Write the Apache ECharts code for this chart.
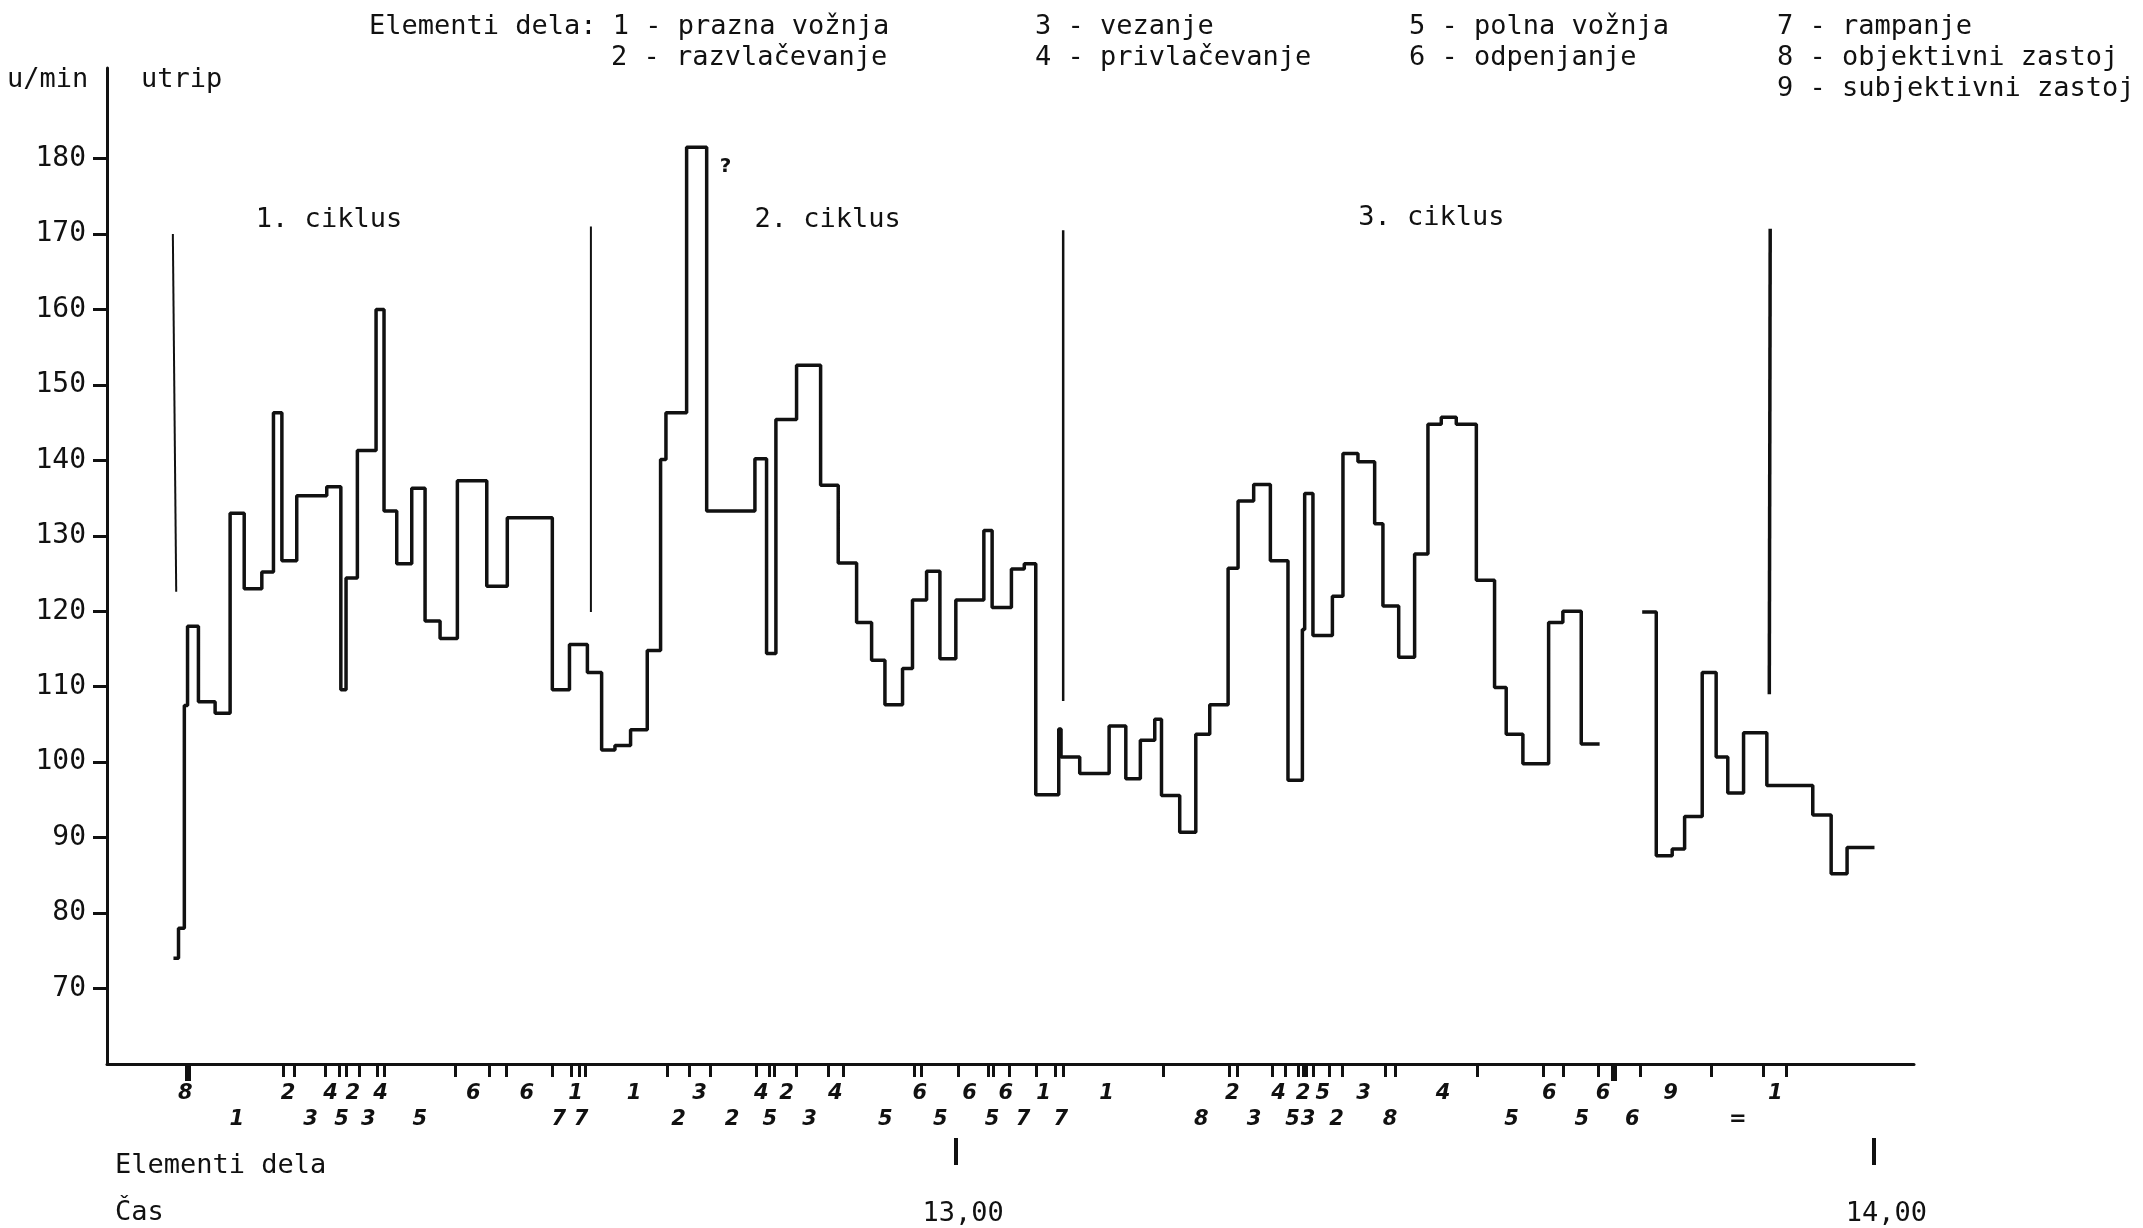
<!DOCTYPE html>
<html><head><meta charset="utf-8">
<script src="https://cdn.jsdelivr.net/npm/echarts@6/dist/echarts.min.js"></script>
<style>html,body{margin:0;padding:0;background:#fff}#c{width:2143px;height:1228px}</style>
</head><body><div id="c"></div>
<script>
// ---- data (time in minutes after 12:00, heart rate in beats/min) ----
const segStartA = [9.04, 9.37, 9.75, 9.96, 10.67, 11.76, 12.74, 13.66, 14.81, 15.57, 16.12, 17.09, 19.05, 19.97, 20.31, 21.05, 22.27, 22.79, 23.62, 24.6, 25.47, 26.45, 27.58, 29.5, 30.84, 33.78, 34.9, 36.07, 37.0, 37.87, 38.89, 39.98, 40.85, 41.2, 42.55, 43.86, 47.01, 47.77, 48.38, 49.73, 51.3, 52.45, 53.65, 54.63, 55.5, 56.65, 57.3, 58.22, 59.09, 60.13, 61.96, 62.5, 63.76, 64.6, 65.35, 66.85, 67.0, 68.22, 70.14, 71.23, 72.18, 73.12, 73.56, 74.75, 75.8, 76.71, 77.91, 78.56, 79.58, 80.67, 81.82, 82.76, 82.91, 83.45, 84.72, 85.41, 86.39, 87.48, 88.02, 89.05, 90.09, 90.96, 91.83, 92.81, 94.12, 95.31, 96.07, 97.16, 98.84, 99.77, 100.97];
const bpmA = [74, 78, 107.5, 118, 108, 106.5, 133, 123, 125.2, 146.3, 126.7, 135.3, 136.5, 109.6, 124.4, 141.3, 160, 133.3, 126.3, 136.3, 118.7, 116.4, 137.3, 123.3, 132.4, 109.6, 115.6, 111.9, 101.6, 102.2, 104.3, 114.8, 140.1, 146.3, 181.5, 133.3, 140.2, 114.4, 145.4, 152.6, 136.7, 126.4, 118.5, 113.5, 107.6, 112.4, 121.5, 125.3, 113.7, 121.5, 130.7, 120.5, 125.6, 126.3, 95.7, 104.4, 100.7, 98.5, 104.8, 97.8, 102.9, 105.7, 95.6, 90.7, 103.7, 107.6, 125.7, 134.6, 136.8, 126.7, 97.6, 117.6, 135.6, 116.8, 122, 140.9, 139.8, 131.6, 120.7, 113.9, 127.6, 144.8, 145.7, 144.8, 124.1, 109.9, 103.7, 99.8, 118.5, 120, 102.4];
const endA = 102.17;
const segStartB = [104.95, 105.87, 106.91, 107.72, 108.87, 109.78, 110.54, 111.57, 113.09, 116.09, 117.29, 118.33];
const bpmB = [119.9, 87.6, 88.5, 92.8, 111.9, 100.7, 95.9, 103.9, 96.9, 93, 85.2, 88.7];
const endB = 120.12;

// cycle boundary markers
const markerTimeTop = [9.0, 36.3, 67.14, 113.31];
const markerTimeBottom = [9.22, 36.3, 67.14, 113.25];
const markerTop = [170, 171, 170.5, 170.7];
const markerBottom = [122.6, 119.9, 108.1, 109];

const cycleLabels = ['1. ciklus', '2. ciklus', '3. ciklus'];
const cycleLabelTimes = [19.23, 51.79, 91.22];
const cycleLabelBpm = [171.8, 171.8, 172.1];

// element boundaries on the time axis
const elementTicks = [16.23, 16.96, 18.94, 19.88, 20.31, 21.19, 22.35, 22.79, 27.45, 29.63, 30.8, 33.8, 35.0, 35.55, 35.93, 41.27, 42.73, 44.1, 47.1, 47.95, 48.26, 49.68, 51.77, 52.76, 57.43, 57.84, 60.31, 62.22, 62.56, 63.62, 65.41, 66.65, 67.14, 73.69, 77.96, 78.52, 80.77, 81.67, 82.52, 82.79, 83.02, 83.47, 84.54, 85.38, 88.14, 88.82, 94.15, 98.46, 99.77, 102.07, 104.8, 109.43, 112.83, 114.35];
const stopTicks = [9.97, 103.12];

const upperLabelTimes = [9.82, 16.53, 19.3, 20.75, 22.56, 28.62, 32.11, 35.3, 39.11, 43.39, 47.43, 49.07, 52.26, 57.77, 61.03, 63.39, 65.86, 69.98, 78.19, 81.21, 82.81, 84.09, 86.75, 91.95, 98.88, 102.4, 106.8, 113.64];
const upperLabels = ['8', '2', '4', '2', '4', '6', '6', '1', '1', '3', '4', '2', '4', '6', '6', '6', '1', '1', '2', '4', '2', '5', '3', '4', '6', '6', '9', '1'];
const lowerLabelTimes = [13.17, 17.99, 20.02, 21.77, 25.12, 34.2, 35.65, 42.03, 45.52, 47.99, 50.58, 55.52, 59.12, 62.49, 64.52, 66.98, 76.16, 79.6, 82.12, 83.13, 84.99, 88.48, 96.42, 101.0, 104.3, 111.19];
const lowerLabels = ['1', '3', '5', '3', '5', '7', '7', '2', '2', '5', '3', '5', '5', '5', '7', '7', '8', '3', '5', '3', '2', '8', '5', '5', '6', '='];

const hourMarkTimes = [60.1, 120.05];
const hourLabelTimes = [60.6, 120.9];
const hourLabels = ['13,00', '14,00'];

const yTickValues = [70, 80, 90, 100, 110, 120, 130, 140, 150, 160, 170, 180];

const legendRow1 = ['Elementi dela: 1 - prazna vožnja', '3 - vezanje', '5 - polna vožnja', '7 - rampanje'];
const legendRow2 = ['2 - razvlačevanje', '4 - privlačevanje', '6 - odpenjanje', '8 - objektivni zastoj'];
const legendRow3 = ['9 - subjektivni zastoj'];

// ---- build ----
function steps(starts, vals, end) {
  const pts = [];
  for (let i = 0; i < starts.length; i++) {
    const t1 = i + 1 < starts.length ? starts[i + 1] : end;
    pts.push([starts[i], vals[i]], [t1, vals[i]]);
  }
  return pts;
}
function lookup(times, labels) {
  return function (v) {
    let best = 0, bd = Infinity;
    for (let i = 0; i < times.length; i++) {
      const d = Math.abs(times[i] - v);
      if (d < bd) { bd = d; best = i; }
    }
    return bd < 0.05 ? labels[best] : '';
  };
}

const MONO = 'DejaVu Sans Mono';
const INK = '#111';
const X_MIN = 4.7, X_MAX = 122.7;

function baseX(extra) {
  return Object.assign({
    type: 'value', min: X_MIN, max: X_MAX, position: 'bottom', gridIndex: 0,
    splitLine: { show: false },
    axisLine: { show: false },
    axisTick: { show: false },
    axisLabel: { show: false }
  }, extra);
}

const markerWidths = [2, 2, 2.5, 3.5];
const markerSeries = markerTop.map((top, i) => ({
  type: 'line', xAxisIndex: 0, yAxisIndex: 0, symbol: 'none', silent: true,
  lineStyle: { color: INK, width: markerWidths[i] },
  data: [[markerTimeTop[i], top], [markerTimeBottom[i], markerBottom[i]]]
}));

const chart = echarts.init(document.getElementById('c'), null, { renderer: 'canvas' });

const legendLeft1 = [369, 1035, 1409, 1777];
const legendLeft2 = [611, 1035, 1409, 1777];
const legendLeft3 = [1777];
const graphics = [];
const FONT = '27px "' + MONO + '"';
function addRow(items, lefts, y) {
  items.forEach((s, i) => graphics.push({
    type: 'text', left: lefts[i], top: y, silent: true,
    style: { text: s, font: FONT, fill: INK }
  }));
}
addRow(legendRow1, legendLeft1, 13);
addRow(legendRow2, legendLeft2, 44);
addRow(legendRow3, legendLeft3, 75);
graphics.push({ type: 'text', left: 7, top: 66, style: { text: 'u/min', font: FONT, fill: INK } });
graphics.push({ type: 'text', left: 141, top: 66, style: { text: 'utrip', font: FONT, fill: INK } });
graphics.push({ type: 'text', left: 115, top: 1152, style: { text: 'Elementi dela', font: FONT, fill: INK } });
graphics.push({ type: 'text', left: 115, top: 1199, style: { text: 'Čas', font: FONT, fill: INK } });

const handFont = { fontFamily: 'DejaVu Sans', fontStyle: 'italic', fontWeight: 'bold', fontSize: 21, color: '#111' };

chart.setOption({
  animation: false,
  backgroundColor: '#ffffff',
  grid: { left: 107, right: 229, top: 68, bottom: 164, containLabel: false, outerBoundsMode: 'none' },
  xAxis: [
    baseX({
      axisLine: { show: true, lineStyle: { color: INK, width: 3 } },
      axisTick: { show: true, customValues: elementTicks, length: 13, lineStyle: { color: INK, width: 3 } }
    }),
    baseX({
      axisTick: { show: true, customValues: stopTicks, length: 17, lineStyle: { color: INK, width: 6 } }
    }),
    baseX({
      axisLabel: { show: true, customValues: upperLabelTimes, formatter: lookup(upperLabelTimes, upperLabels), margin: 19, ...handFont }
    }),
    baseX({
      axisLabel: { show: true, customValues: lowerLabelTimes, formatter: lookup(lowerLabelTimes, lowerLabels), margin: 45, ...handFont }
    }),
    baseX({
      offset: 74,
      axisTick: { show: true, customValues: hourMarkTimes, length: 27, lineStyle: { color: INK, width: 4 } },
      axisLabel: { show: true, customValues: hourLabelTimes, formatter: lookup(hourLabelTimes, hourLabels), margin: 62, fontFamily: MONO, fontSize: 27, color: INK }
    })
  ],
  yAxis: {
    type: 'value', min: 60, max: 192, interval: 10,
    splitLine: { show: false },
    axisLine: { show: true, lineStyle: { color: INK, width: 3 } },
    axisTick: { show: true, customValues: yTickValues, length: 14, lineStyle: { color: INK, width: 3 } },
    axisLabel: { show: true, customValues: yTickValues, margin: 21, fontFamily: MONO, fontSize: 28, color: INK }
  },
  graphic: graphics,
  series: [
    {
      type: 'line', xAxisIndex: 0, yAxisIndex: 0, symbol: 'none', silent: true,
      lineStyle: { color: INK, width: 3.5 }, data: steps(segStartA, bpmA, endA)
    },
    {
      type: 'line', xAxisIndex: 0, yAxisIndex: 0, symbol: 'none', silent: true,
      lineStyle: { color: INK, width: 3.5 }, data: steps(segStartB, bpmB, endB)
    },
    ...markerSeries,
    {
      type: 'scatter', xAxisIndex: 0, yAxisIndex: 0, symbolSize: 1, silent: true,
      itemStyle: { color: 'rgba(0,0,0,0)', opacity: 1 },
      data: cycleLabels.map((s, i) => ({ value: [cycleLabelTimes[i], cycleLabelBpm[i]], name: s })),
      label: { show: true, position: [0, 0], align: 'center', verticalAlign: 'middle', formatter: p => p.name, fontFamily: MONO, fontSize: 27, color: INK, opacity: 1 }
    },
    {
      type: 'scatter', xAxisIndex: 0, yAxisIndex: 0, symbolSize: 1, silent: true,
      itemStyle: { color: 'rgba(0,0,0,0)', opacity: 1 },
      data: [{ value: [45.12, 178.9], name: '?' }],
      label: { show: true, position: [0, 0], align: 'center', verticalAlign: 'middle', formatter: p => p.name, fontFamily: 'DejaVu Sans', fontWeight: 'bold', fontSize: 20, color: INK, opacity: 1 }
    }
  ]
});
</script></body></html>
